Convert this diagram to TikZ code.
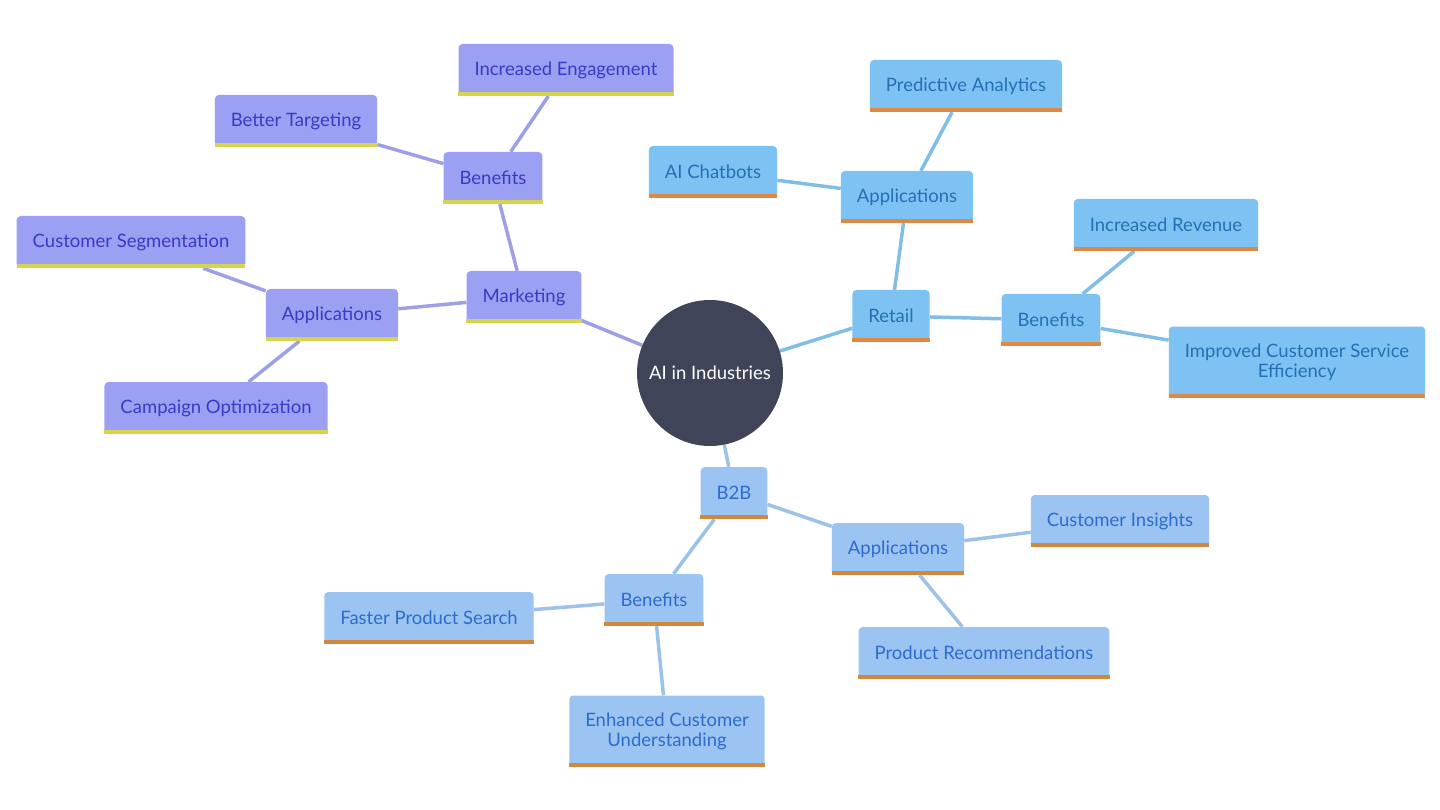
\documentclass[tikz,border=0pt]{standalone}
\usepackage{fontspec}
\setmainfont{Lato}
\usetikzlibrary{backgrounds}

\definecolor{hubfill}{HTML}{404459}
\definecolor{mktfill}{HTML}{9CA0F2}
\definecolor{mkttext}{HTML}{3A3AC4}
\definecolor{mktline}{HTML}{9DA0E6}
\definecolor{mktbar}{HTML}{D6D44C}
\definecolor{retfill}{HTML}{7EC2F4}
\definecolor{rettext}{HTML}{2470B4}
\definecolor{retline}{HTML}{80BEE6}
\definecolor{retbar}{HTML}{DE8844}
\definecolor{btbfill}{HTML}{9CC4F2}
\definecolor{btbtext}{HTML}{2C6CCC}
\definecolor{btbline}{HTML}{9CC2E8}
\definecolor{btbbar}{HTML}{D2883C}

\tikzset{
  leaf/.style={rounded corners=4pt, inner xsep=16pt, inner ysep=13pt,
    minimum height=52pt, align=center, font=\fontsize{18.5}{20}\selectfont},
  tall/.style={minimum height=71pt},
  barred/.style={append after command={([yshift=2pt]\tikzlastnode.south west)
    edge[draw=#1, line width=4pt, rounded corners=0pt] ([yshift=2pt]\tikzlastnode.south east)}},
  mkt/.style={leaf, fill=mktfill, text=mkttext, barred=mktbar},
  ret/.style={leaf, fill=retfill, text=rettext, barred=retbar},
  btb/.style={leaf, fill=btbfill, text=btbtext, barred=btbbar},
  link/.style={line width=3.5pt, draw=#1},
}

\begin{document}
\begin{tikzpicture}[x=1pt, y=-1pt]
  \useasboundingbox (0,0) rectangle (1440,810);

  % hub
  \node[circle, fill=hubfill, text=white, minimum size=146pt,
    font=\fontsize{18.5}{20}\selectfont] (hub) at (710,373) {AI in Industries};

  % marketing
  \node[mkt] (mkt) at (524,297) {Marketing};
  \node[mkt] (mktapp) at (332,315) {Applications};
  \node[mkt] (segment) at (131,242) {Customer Segmentation};
  \node[mkt] (campaign) at (216,408) {Campaign Optimization};
  \node[mkt] (mktben) at (493,178) {Benefits};
  \node[mkt] (target) at (296,121) {Better Targeting};
  \node[mkt] (engage) at (566,70) {Increased Engagement};

  % retail
  \node[ret] (ret) at (891,316) {Retail};
  \node[ret] (retapp) at (907,197) {Applications};
  \node[ret] (chatbot) at (713,172) {AI Chatbots};
  \node[ret] (predict) at (966,86) {Predictive Analytics};
  \node[ret] (retben) at (1051,320) {Benefits};
  \node[ret] (revenue) at (1166,225) {Increased Revenue};
  \node[ret, tall] (service) at (1297,362) {Improved Customer Service\\Efficiency};

  % b2b
  \node[btb] (btb) at (734,493) {B2B};
  \node[btb] (btbapp) at (898,549) {Applications};
  \node[btb] (insight) at (1120,521) {Customer Insights};
  \node[btb] (recommend) at (984,653) {Product Recommendations};
  \node[btb] (btbben) at (654,600) {Benefits};
  \node[btb] (search) at (429,618) {Faster Product Search};
  \node[btb, tall] (understand) at (667,731) {Enhanced Customer\\Understanding};

  \begin{pgfonlayer}{background}
    \draw[link=mktline] (hub) -- (mkt) (mkt) -- (mktapp) (mktapp) -- (segment)
      (mktapp) -- (campaign) (mkt) -- (mktben) (mktben) -- (target) (mktben) -- (engage);
    \draw[link=retline] (hub) -- (ret) (ret) -- (retapp) (retapp) -- (chatbot)
      (retapp) -- (predict) (ret) -- (retben) (retben) -- (revenue) (retben) -- (service);
    \draw[link=btbline] (hub) -- (btb) (btb) -- (btbapp) (btbapp) -- (insight)
      (btbapp) -- (recommend) (btb) -- (btbben) (btbben) -- (search) (btbben) -- (understand);
  \end{pgfonlayer}
\end{tikzpicture}
\end{document}
